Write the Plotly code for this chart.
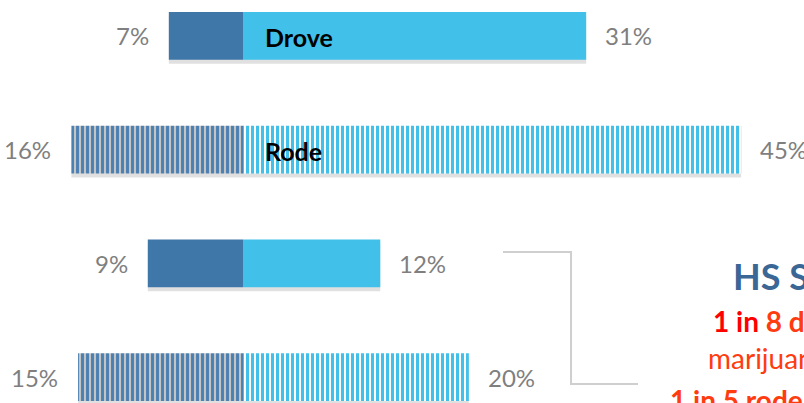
import plotly.graph_objects as go

# ---- data ----
rows = [0, 1, 2, 3]
row_names = ["Drove", "Rode", "", ""]
left_values = [6.7, 15.5, 8.6, 14.9]
right_values = [31.0, 45.0, 12.4, 20.4]
left_labels = ["7%", "16%", "9%", "15%"]
right_labels = ["31%", "45%", "12%", "20%"]
striped = [False, True, False, True]

W, H = 804, 403
DARK = "#3F77A8"
LIGHT = "#41C0EA"
GRAY = "#7F7F7F"
FONT = "Lato"

def px(x):
    return x / W

def py(y):
    return 1 - y / H

fig = go.Figure()
bw = 0.42

# soft shadow
for vals in ([-v for v in left_values], right_values):
    fig.add_trace(go.Bar(y=rows, x=vals, orientation="h",
                         width=bw, offset=-bw / 2 + 0.035,
                         marker=dict(color="rgba(0,0,0,0.12)", line=dict(width=0)),
                         hoverinfo="skip", showlegend=False))

fig.add_trace(go.Bar(
    y=rows, x=[-v for v in left_values], orientation="h", width=bw,
    marker=dict(
        color=DARK, line=dict(width=0),
        pattern=dict(shape=["|" if s else "" for s in striped],
                     fgcolor="#4A80B2", bgcolor=["#C4C4C4" if s else DARK for s in striped],
                     size=5, solidity=0.58, fillmode="replace"),
    ),
    showlegend=False, hoverinfo="skip"))
fig.add_trace(go.Bar(
    y=rows, x=right_values, orientation="h", width=bw,
    marker=dict(
        color=LIGHT, line=dict(width=0),
        pattern=dict(shape=["|" if s else "" for s in striped],
                     fgcolor=LIGHT, bgcolor=["#FFFFFF" if s else LIGHT for s in striped],
                     size=5, solidity=0.6, fillmode="replace"),
    ),
    showlegend=False, hoverinfo="skip"))

ann = []
for r, v, t in zip(rows, left_values, left_labels):
    ann.append(dict(x=-v, y=r, text=t, xanchor="right", yanchor="middle", xshift=-18,
                    showarrow=False, font=dict(family=FONT, size=24, color=GRAY)))
for r, v, t in zip(rows, right_values, right_labels):
    ann.append(dict(x=v, y=r, text=t, xanchor="left", yanchor="middle", xshift=17,
                    showarrow=False, font=dict(family=FONT, size=24, color=GRAY)))
for r, n in zip(rows, row_names):
    if n:
        ann.append(dict(x=0, y=r, text="<b>%s</b>" % n, xanchor="left", yanchor="middle",
                        xshift=20, yshift=-1, showarrow=False,
                        font=dict(family=FONT, size=25, color="#000000")))

# callout text on the right
ann.append(dict(xref="paper", yref="paper", x=px(731), y=py(276), xanchor="left", yanchor="middle",
                text="<b>HS Students</b>", showarrow=False,
                font=dict(family=FONT, size=36, color="#3B6797")))
ann.append(dict(xref="paper", yref="paper", x=px(711), y=py(321), xanchor="left", yanchor="middle",
                text="<b><span style='color:#FF0000'>1 in </span>8 drove after using</b>",
                showarrow=False, font=dict(family=FONT, size=28, color="#FF3B10")))
ann.append(dict(xref="paper", yref="paper", x=px(706), y=py(358), xanchor="left", yanchor="middle",
                text="marijuana", showarrow=False,
                font=dict(family=FONT, size=28, color="#FF3B10")))
ann.append(dict(xref="paper", yref="paper", x=px(668), y=py(400), xanchor="left", yanchor="middle",
                text="<b>1 in 5 rode with</b>", showarrow=False,
                font=dict(family=FONT, size=28, color="#FF3B10")))

shapes = [dict(type="path", xref="paper", yref="paper",
               path="M %f %f L %f %f L %f %f L %f %f" % (px(503), py(252), px(571), py(252),
                                                         px(571), py(384), px(638), py(384)),
               line=dict(color="#CFCFCF", width=2))]

scale = 11.07
center = 243
fig.update_layout(
    width=W, height=H, margin=dict(l=0, r=0, t=0, b=0, pad=0),
    paper_bgcolor="white", plot_bgcolor="white", barmode="overlay",
    xaxis=dict(range=[-center / scale, (W - center) / scale], visible=False, fixedrange=True),
    yaxis=dict(range=[3 + (H - 377) / 113.7, -36 / 113.7], visible=False, fixedrange=True),
    annotations=ann, shapes=shapes, showlegend=False,
)
fig.write_html("out.html", config={"displayModeBar": False},
               post_script="document.body.style.margin='0';document.body.style.overflow='hidden';")
